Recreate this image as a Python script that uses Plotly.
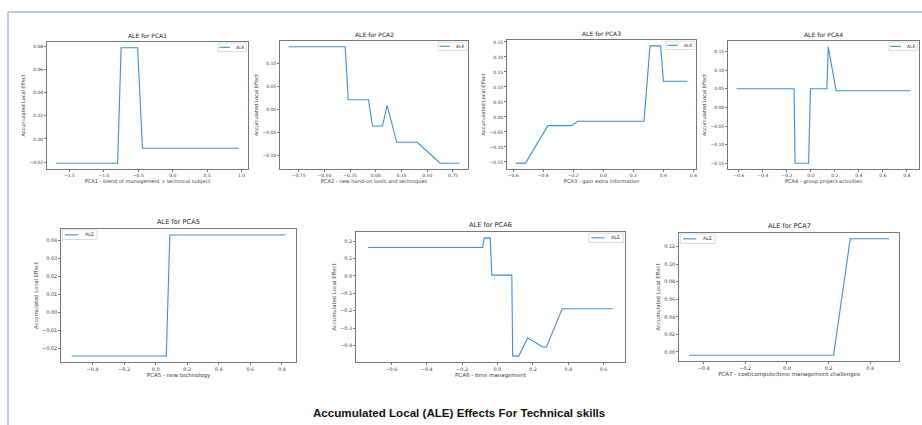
import plotly.graph_objects as go

W, H = 922, 425

# ---------------- data ----------------
pca1_x = [-1.693, -0.80, -0.75, -0.51, -0.44, 0.96]
pca1_y = [-0.021, -0.021, 0.079, 0.079, -0.008, -0.008]

pca2_x = [-0.848, -0.297, -0.268, -0.071, -0.032, 0.065, 0.11, 0.203, 0.403, 0.626, 0.813]
pca2_y = [0.137, 0.137, 0.0216, 0.0216, -0.036, -0.036, 0.0094, -0.0714, -0.0714, -0.117, -0.117]

pca3_x = [-0.584, -0.518, -0.369, -0.213, -0.169, 0.271, 0.311, 0.382, 0.40, 0.56]
pca3_y = [-0.154, -0.154, -0.029, -0.029, -0.0144, -0.0144, 0.237, 0.237, 0.119, 0.119]

pca4_x = [-0.619, -0.140, -0.132, -0.019, -0.003, 0.134, 0.145, 0.211, 0.83]
pca4_y = [0.0504, 0.0504, -0.1496, -0.1496, 0.0504, 0.0504, 0.163, 0.045, 0.045]

pca5_x = [-0.532, 0.0675, 0.090, 0.822]
pca5_y = [-0.0242, -0.0242, 0.0428, 0.0428]

pca6_x = [-0.731, -0.084, -0.075, -0.041, -0.032, 0.081, 0.086, 0.12, 0.171, 0.255, 0.277, 0.366, 0.652]
pca6_y = [0.1625, 0.1625, 0.218, 0.218, 0.004, 0.004, -0.461, -0.461, -0.356, -0.409, -0.409, -0.189, -0.189]

pca7_x = [-0.47, 0.224, 0.304, 0.49]
pca7_y = [-0.0038, -0.0038, 0.129, 0.129]

titles = ["ALE for PCA1", "ALE for PCA2", "ALE for PCA3", "ALE for PCA4",
          "ALE for PCA5", "ALE for PCA6", "ALE for PCA7"]
xlabels = ["PCA1 - blend of management + technical subject",
           "PCA2 - new hand-on tools and techniques",
           "PCA3 - gain extra information",
           "PCA4 - group project activities",
           "PCA5 - new technology",
           "PCA6 - time management",
           "PCA7 - cost/compute/time management challenges"]
ylabel = "Accumulated Local Effect"
series_name = "ALE"
main_title = "Accumulated Local (ALE) Effects For Technical skills"

xticks = [[-1.5, -1.0, -0.5, 0.0, 0.5, 1.0],
          [-0.75, -0.50, -0.25, 0.00, 0.25, 0.50, 0.75],
          [-0.6, -0.4, -0.2, 0.0, 0.2, 0.4, 0.6],
          [-0.6, -0.4, -0.2, 0.0, 0.2, 0.4, 0.6, 0.8],
          [-0.4, -0.2, 0.0, 0.2, 0.4, 0.6, 0.8],
          [-0.6, -0.4, -0.2, 0.0, 0.2, 0.4, 0.6],
          [-0.4, -0.2, 0.0, 0.2, 0.4]]
xdec = [1, 2, 1, 1, 1, 1, 1]
yticks = [[-0.02, 0.00, 0.02, 0.04, 0.06, 0.08],
          [-0.10, -0.05, 0.00, 0.05, 0.10],
          [-0.15, -0.10, -0.05, 0.00, 0.05, 0.10, 0.15, 0.20, 0.25],
          [-0.15, -0.10, -0.05, 0.00, 0.05, 0.10, 0.15],
          [-0.02, -0.01, 0.00, 0.01, 0.02, 0.03, 0.04],
          [-0.4, -0.3, -0.2, -0.1, 0.0, 0.1, 0.2],
          [0.00, 0.02, 0.04, 0.06, 0.08, 0.10, 0.12]]
ydec = [2, 2, 2, 2, 2, 1, 2]

xs = [pca1_x, pca2_x, pca3_x, pca4_x, pca5_x, pca6_x, pca7_x]
ys = [pca1_y, pca2_y, pca3_y, pca4_y, pca5_y, pca6_y, pca7_y]

# ---------------- layout geometry (pixels) ----------------
boxes = [(47, 248, 42, 169), (280, 468, 41, 169), (507, 696, 40, 169), (728, 919, 41, 169),
         (61, 296, 229, 362), (356, 625, 232, 362), (679, 899, 233, 361)]
legend_corner = ["tr", "tr", "tr", "tr", "tl", "tr", "tl"]
top_row = [True, True, True, True, False, False, False]

LINE_COLOR = "#3f8fcf"
SPINE = "#777777"


def fx(px):
    return px / W


def fy(py):
    return 1 - py / H


def fmt(v, d):
    s = f"{abs(v):.{d}f}"
    return ("\u2212" + s) if v < 0 and abs(v) > 1e-12 else s


def padded(vals):
    lo, hi = min(vals), max(vals)
    m = 0.05 * (hi - lo)
    return [lo - m, hi + m]


fig = go.Figure()
shapes = []
annotations = []

for i in range(7):
    n = i + 1
    xa = "x" if n == 1 else f"x{n}"
    ya = "y" if n == 1 else f"y{n}"
    fig.add_trace(go.Scatter(x=xs[i], y=ys[i], mode="lines", name=series_name,
                             line=dict(color=LINE_COLOR, width=1.1),
                             xaxis=xa, yaxis=ya, showlegend=False))
    x0, x1, y0, y1 = boxes[i]
    small = top_row[i]
    tf = 4.5 if small else 4.9
    lf = 5.1 if small else 5.5
    common = dict(showline=True, mirror=True, linecolor=SPINE, linewidth=0.8,
                  showgrid=False, zeroline=False, ticks="outside", ticklen=2,
                  tickwidth=0.6, tickcolor=SPINE,
                  tickfont=dict(family="DejaVu Sans", size=tf, color="#3a3a3a"))
    xkey = "xaxis" if n == 1 else f"xaxis{n}"
    ykey = "yaxis" if n == 1 else f"yaxis{n}"
    fig.update_layout(**{
        xkey: dict(domain=[fx(x0), fx(x1)], anchor=ya, range=padded(xs[i]),
                   tickmode="array", tickvals=xticks[i],
                   ticktext=[fmt(v, xdec[i]) for v in xticks[i]],
                   title=dict(text=xlabels[i], standoff=1.5,
                              font=dict(family="DejaVu Sans", size=lf, color="#3a3a3a")),
                   **common),
        ykey: dict(domain=[fy(y1), fy(y0)], anchor=xa, range=padded(ys[i]),
                   tickmode="array", tickvals=yticks[i],
                   ticktext=[fmt(v, ydec[i]) for v in yticks[i]],
                   title=dict(text=ylabel, standoff=3,
                              font=dict(family="DejaVu Sans", size=lf - 0.2, color="#3a3a3a")),
                   **common),
    })
    # subplot title
    annotations.append(dict(text=titles[i], xref="paper", yref="paper",
                            x=fx((x0 + x1) / 2), y=fy(y0), xanchor="center", yanchor="bottom",
                            yshift=1, showarrow=False,
                            font=dict(family="DejaVu Sans", size=6.0 if small else 6.6,
                                      color="#222222")))
    # legend box (drawn manually, matplotlib style)
    lw, lh = (28.5, 8.4) if small else (34.5, 9.4)
    off = 1.6
    if legend_corner[i] == "tr":
        bx0 = x1 - off - lw
    else:
        bx0 = x0 + off
    by0 = y0 + off * 0.7
    shapes.append(dict(type="rect", xref="paper", yref="paper",
                       x0=fx(bx0), x1=fx(bx0 + lw), y0=fy(by0 + lh), y1=fy(by0),
                       line=dict(color="#cfcfcf", width=0.7), fillcolor="white"))
    l0, l1, tx = (1.5, 12.0, 16.0) if small else (2.3, 15.6, 20.0)
    shapes.append(dict(type="line", xref="paper", yref="paper",
                       x0=fx(bx0 + l0), x1=fx(bx0 + l1),
                       y0=fy(by0 + lh / 2), y1=fy(by0 + lh / 2),
                       line=dict(color=LINE_COLOR, width=1.1)))
    annotations.append(dict(text=series_name, xref="paper", yref="paper",
                            x=fx(bx0 + tx), y=fy(by0 + lh / 2), xanchor="left", yanchor="middle",
                            showarrow=False,
                            font=dict(family="DejaVu Sans", size=4.4 if small else 4.8,
                                      color="#333333")))

# document frame lines (light blue)
shapes.append(dict(type="line", xref="paper", yref="paper", x0=fx(8), x1=1.0,
                   y0=fy(12), y1=fy(12), line=dict(color="#9fb6e6", width=1.4)))
shapes.append(dict(type="line", xref="paper", yref="paper", x0=fx(8), x1=fx(8),
                   y0=fy(12), y1=0.0, line=dict(color="#9fb6e6", width=1.4)))

# main caption
annotations.append(dict(
    text="<b>" + main_title + "</b>",
    xref="paper", yref="paper", x=fx(459), y=fy(412), xanchor="center", yanchor="middle",
    showarrow=False, font=dict(family="Liberation Sans", size=11.6, color="#111111")))

fig.update_layout(width=W, height=H, margin=dict(l=0, r=0, t=0, b=0),
                  paper_bgcolor="white", plot_bgcolor="white",
                  shapes=shapes, annotations=annotations, showlegend=False)

fig.write_html("out.html", config={"displayModeBar": False},
               post_script="document.body.style.margin='0';document.body.style.overflow='hidden';")
